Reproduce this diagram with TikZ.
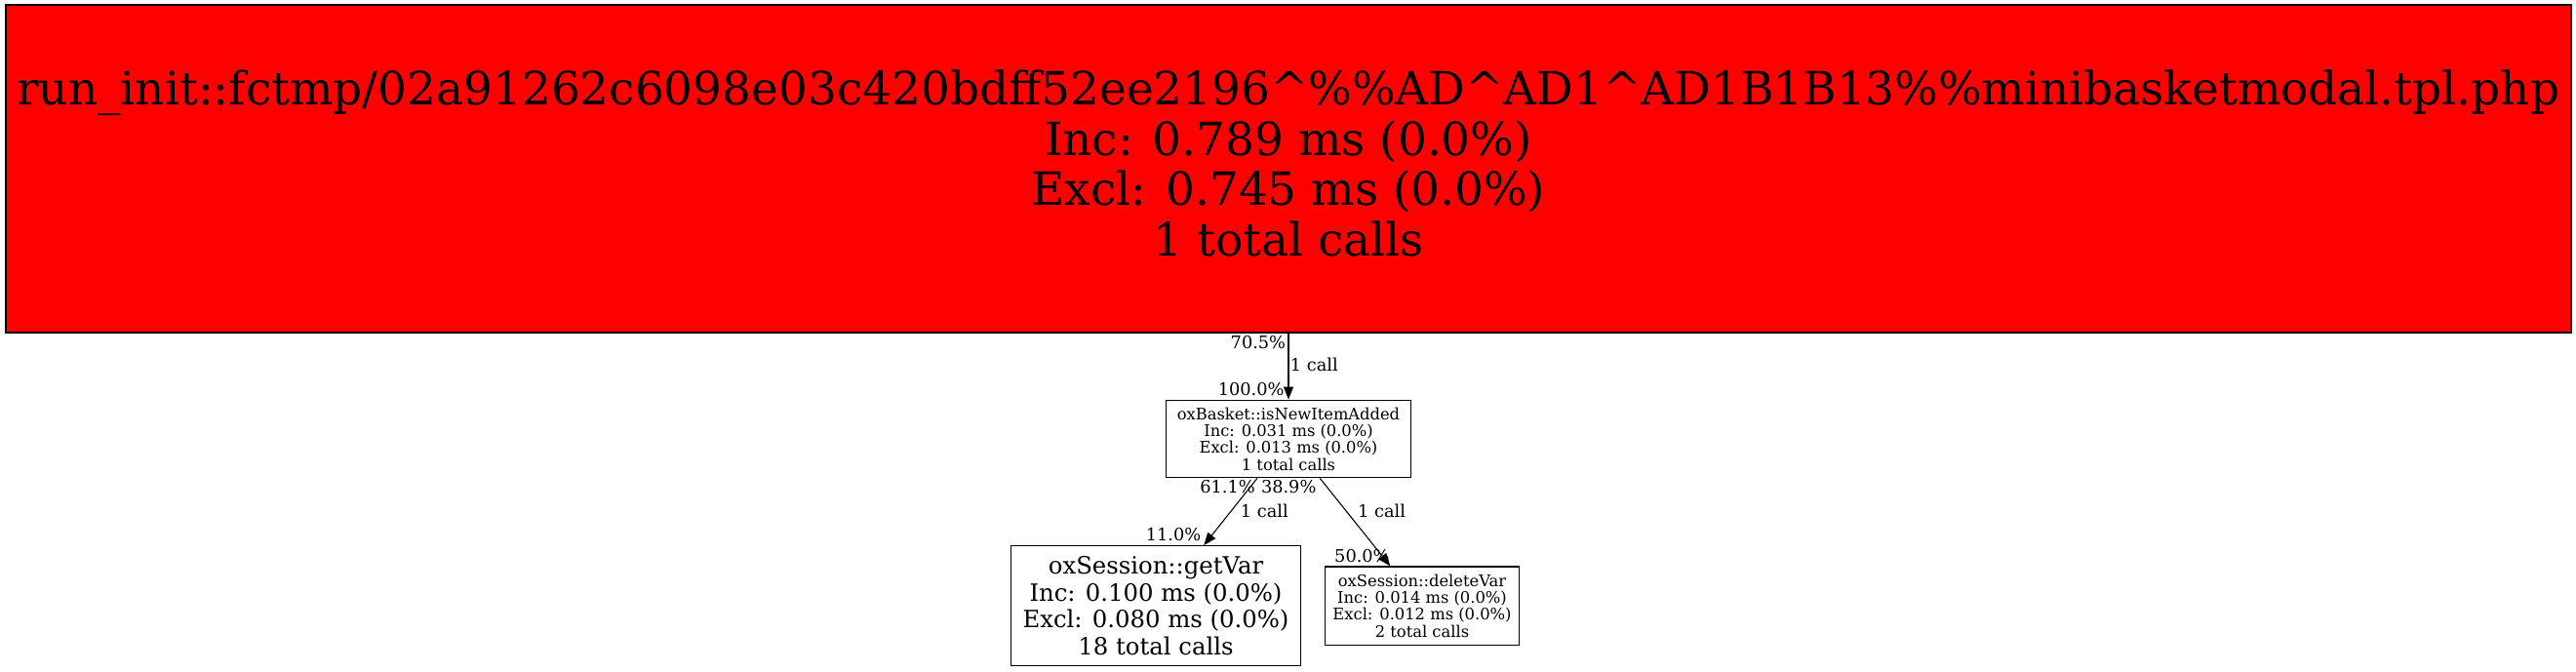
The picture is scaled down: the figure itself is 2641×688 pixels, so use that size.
\documentclass[tikz,border=0pt]{standalone}
\usepackage{fontspec}
\setmainfont{DejaVu Serif}
\usetikzlibrary{arrows.meta}
\newlength\rsw
\newcommand\rsfit[3]{\settowidth\rsw{\fontsize{10}{12}\selectfont #3}\pgfmathsetmacro#1{(#2/\rsw)*10}}
\begin{document}
\rsfit\fsTop{2607}{run\_init::fctmp/02a91262c6098e03c420bdff52ee2196\textasciicircum\%\%AD\textasciicircum AD1\textasciicircum AD1B1B13\%\%minibasketmodal.tpl.php}%
\rsfit\fsMid{228.3}{oxBasket::isNewItemAdded}%
\rsfit\fsGet{273}{Excl: 0.080 ms (0.0\%)}%
\rsfit\fsDel{172.2}{oxSession::deleteVar}%
\rsfit\fsLab{67.7}{100.0\%}%
\begin{tikzpicture}[x=1pt,y=-1pt]
\tikzset{
  fn/.style={draw=black, line width=1.2pt, inner sep=0pt, align=center},
  edge/.style={draw=black, line width=1.1pt, -{Triangle[length=13pt,width=10pt]}},
  lab/.style={inner sep=0pt, font=\fontsize{\fsLab}{19}\selectfont},
  big/.style={font=\fontsize{\fsTop}{51.5}\selectfont},
  mid/.style={font=\fontsize{\fsMid}{17.3}\selectfont},
  med/.style={font=\fontsize{\fsGet}{27.6}\selectfont},
  sml/.style={font=\fontsize{\fsDel}{17.2}\selectfont}}
\useasboundingbox (0,0) rectangle (2641,688);
\node[fn, big, fill=red, minimum width=2630pt, minimum height=336pt] (top) at (1321,173)
  {run\_init::fctmp/02a91262c6098e03c420bdff52ee2196\textasciicircum\%\%AD\textasciicircum AD1\textasciicircum AD1B1B13\%\%minibasketmodal.tpl.php\\Inc: 0.789 ms (0.0\%)\\Excl: 0.745 ms (0.0\%)\\1 total calls\rule[-12pt]{0pt}{0pt}};
\node[fn, mid, minimum width=251.6pt, minimum height=79.7pt] (basket) at (1321,450)
  {oxBasket::isNewItemAdded\\Inc: 0.031 ms (0.0\%)\\Excl: 0.013 ms (0.0\%)\\1 total calls};
\node[fn, med, minimum width=297pt, minimum height=122.6pt] (getvar) at (1185,621)
  {oxSession::getVar\\Inc: 0.100 ms (0.0\%)\\Excl: 0.080 ms (0.0\%)\\18 total calls};
\node[fn, sml, minimum width=198.6pt, minimum height=80.7pt] (delvar) at (1458,621.3)
  {oxSession::deleteVar\\Inc: 0.014 ms (0.0\%)\\Excl: 0.012 ms (0.0\%)\\2 total calls};
\draw[edge] (top) -- (basket);
\draw[edge] (basket) -- (getvar);
\draw[edge] (basket) -- (delvar);
\node[lab, anchor=base east] (l1) at (1318.3,357) {70.5\%};
\node[lab, anchor=base west] (l2) at (1322.7,380) {1 call};
\node[lab, anchor=base east] (l3) at (1316.7,405.7) {100.0\%};
\node[lab, anchor=base east] (l4) at (1287,505.7) {61.1\%};
\node[lab, anchor=base west] (l5) at (1292.8,505.7) {38.9\%};
\node[lab, anchor=base west] (l6) at (1271.7,530) {1 call};
\node[lab, anchor=base west] (l7) at (1392,530) {1 call};
\node[lab, anchor=base east] (l8) at (1231.5,554) {11.0\%};
\node[lab, anchor=base east] (l9) at (1424.8,576) {50.0\%};
\end{tikzpicture}
\end{document}
